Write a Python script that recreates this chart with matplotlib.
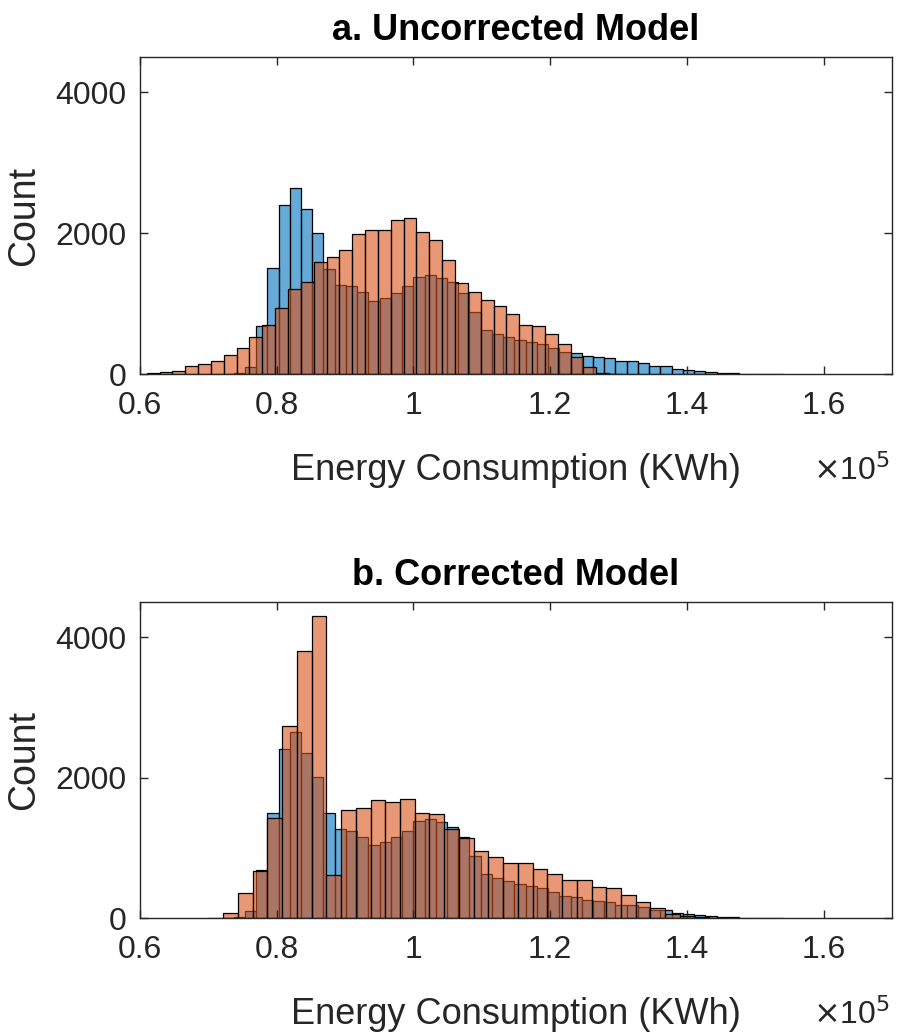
import numpy as np
import matplotlib.pyplot as plt
from matplotlib.ticker import FuncFormatter

plt.rcParams['font.family'] = ['Liberation Sans', 'DejaVu Sans']

# observed distribution (same in both panels), energy in kWh
obs_start = 72050
obs_width = 1643
obs_counts = [5, 10, 95, 683, 1500, 2406, 2643, 2344, 2002, 1490, 1267, 1243, 1158,
              1044, 1077, 1148, 1243, 1376, 1404, 1362, 1300, 1148, 878, 626, 569,
              531, 484, 451, 422, 365, 318, 294, 261, 247, 223, 190, 190, 161, 114,
              114, 66, 57, 38, 25, 12, 8, 5, 3, 2, 1]

# uncorrected model
unc_start = 60980
unc_width = 1879
unc_counts = [8, 24, 43, 114, 147, 190, 270, 365, 527, 697, 935, 1210, 1310, 1594,
              1660, 1760, 1988, 2050, 2040, 2183, 2216, 2010, 1898, 1613, 1290, 1163,
              1053, 968, 854, 697, 683, 565, 422, 237, 104, 19, 5]

# corrected model
cor_start = 70020
cor_width = 2155
cor_counts = [3, 71, 354, 670, 1430, 2738, 3809, 4300, 614, 1543, 1567, 1676, 1647,
              1690, 1499, 1475, 1272, 1140, 955, 870, 785, 790, 695, 634, 539, 539,
              435, 421, 326, 222, 142, 57, 24, 10, 4]

titles = ['a. Uncorrected Model', 'b. Corrected Model']
xticks = [60000, 80000, 100000, 120000, 140000, 160000]
yticks = [0, 2000, 4000]

blue = (0.0, 0.447, 0.741, 0.6)
orange = (0.85, 0.325, 0.098, 0.6)
axcol = (0.15, 0.15, 0.15)


def draw_hist(ax, start, width, counts, face):
    edges = start + width * np.arange(len(counts) + 1)
    centers = (edges[:-1] + edges[1:]) / 2
    ax.hist(centers, bins=edges, weights=counts, facecolor=face,
            edgecolor='black', linewidth=0.9)


fig = plt.figure(figsize=(8.98, 10.35), dpi=100)
ax1 = fig.add_axes([0.1559, 0.6386, 0.8374, 0.3063])
ax2 = fig.add_axes([0.1559, 0.1130, 0.8374, 0.3053])

for ax, title, start, width, counts in [
        (ax1, titles[0], unc_start, unc_width, unc_counts),
        (ax2, titles[1], cor_start, cor_width, cor_counts)]:
    draw_hist(ax, obs_start, obs_width, obs_counts, blue)
    draw_hist(ax, start, width, counts, orange)

    ax.set_xlim(60000, 170000)
    ax.set_ylim(0, 4500)
    ax.set_xticks(xticks)
    ax.set_yticks(yticks)
    ax.xaxis.set_major_formatter(FuncFormatter(lambda v, p: f'{v / 1e5:g}'))
    ax.tick_params(direction='in', length=6, width=1, colors=axcol,
                   labelsize=23, top=True, right=True)
    ax.tick_params(axis='x', pad=12)
    ax.tick_params(axis='y', pad=10)
    for s in ax.spines.values():
        s.set_color(axcol)
        s.set_linewidth(1)

    ax.set_title(title, fontsize=26, fontweight='bold', pad=12)
    ax.set_xlabel('Energy Consumption (KWh)', fontsize=26, color=axcol)
    ax.set_ylabel('Count', fontsize=27, color=axcol)
    ax.xaxis.set_label_coords(0.5, -0.25)
    ax.yaxis.set_label_coords(-0.13, 0.5)
    ax.xaxis.label.set_va('top')
    ax.text(0.997, -0.305, r'$\times$10$^5$', transform=ax.transAxes,
            ha='right', va='center', fontsize=23, color=axcol)

fig.savefig('out.png', dpi=100)
